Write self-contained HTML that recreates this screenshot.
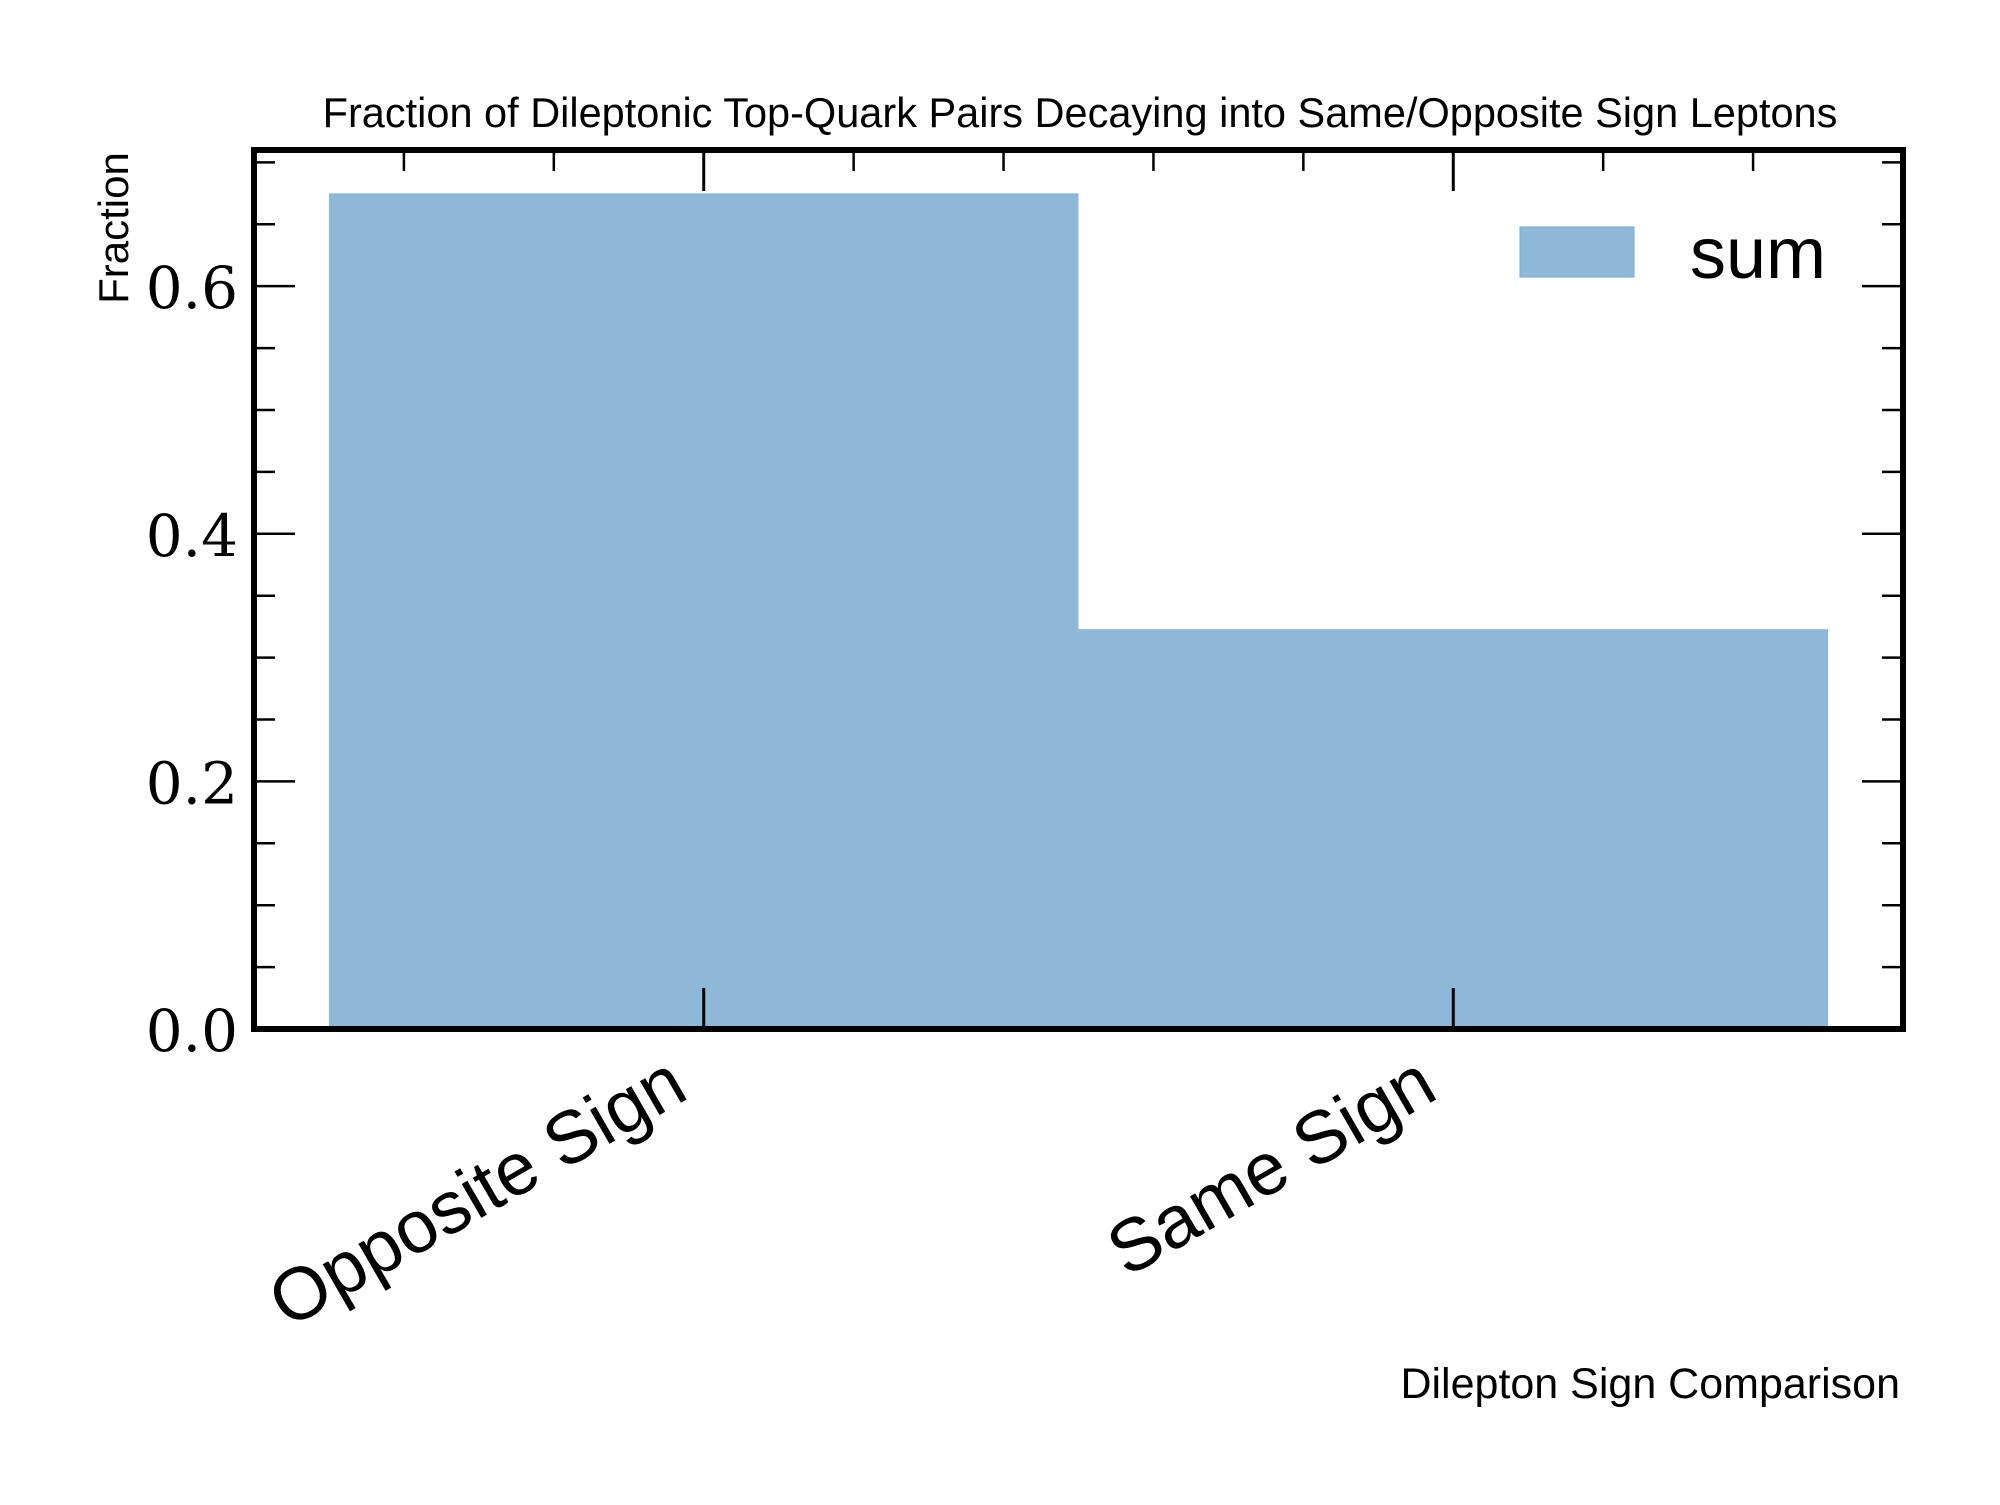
<!DOCTYPE html>
<html><head><meta charset="utf-8"><style>
body{margin:0;background:#fff}
svg text{font-family:"Liberation Sans",sans-serif}
.ser{font-family:"DejaVu Serif","Liberation Serif",serif}
</style></head><body>
<svg id="chart" width="2000" height="1500" xmlns="http://www.w3.org/2000/svg">
<rect width="2000" height="1500" fill="#fff"/>
<text x="1080" y="127" font-size="41.5" text-anchor="middle">Fraction of Dileptonic Top-Quark Pairs Decaying into Same/Opposite Sign Leptons</text>
<text transform="translate(128,228) rotate(-90)" font-size="42" text-anchor="middle">Fraction</text>
<text x="1900" y="1398" font-size="43" text-anchor="end">Dilepton Sign Comparison</text>
<g id="bars"></g>
<g id="ticks"></g>
<rect x="1520" y="227" width="114" height="50" fill="#8db8d8" stroke="#7aaad0" stroke-width="1"/>
<text x="1690" y="278" font-size="72">sum</text>
<rect x="254" y="150" width="1649" height="879" fill="none" stroke="#000" stroke-width="6"/>
</svg>
<script>
const categories = ["Opposite Sign", "Same Sign"];
const values = [0.675, 0.323];
const yTicks = [0, 0.2, 0.4, 0.6];
const yTickLabels = ["0.0", "0.2", "0.4", "0.6"];
const L=254,R=1903,T=150,B=1029, xmin=-0.1,xmax=2.1, ymin=0,ymax=0.71;
const sx=v=>L+(v-xmin)/(xmax-xmin)*(R-L);
const sy=v=>B-(v-ymin)/(ymax-ymin)*(B-T);
const NS="http://www.w3.org/2000/svg";
function mk(tag,attrs,parent){const e=document.createElementNS(NS,tag);for(const k in attrs)e.setAttribute(k,attrs[k]);parent.appendChild(e);return e;}
const bars=document.getElementById('bars'), ticks=document.getElementById('ticks'), svg=document.getElementById('chart');
values.forEach((v,i)=>{
  const r=mk('rect',{x:sx(i),y:sy(v),width:sx(i+1)-sx(i),height:B-sy(v),fill:'#8db8d8'},bars);
  
  
});
categories.forEach((c,i)=>{
  const x=sx(i+0.5);
  mk('line',{x1:x,x2:x,y1:B,y2:B-41,stroke:'#000','stroke-width':3},ticks);
  mk('line',{x1:x,x2:x,y1:T,y2:T+41,stroke:'#000','stroke-width':3},ticks);
  const t=mk('text',{transform:`translate(${x-13},1097) rotate(-30)`,'font-size':74,'text-anchor':'end'},svg);
  t.textContent=c;
  
  
});
for(let k=0;k<11;k++){
  const v=0.1+0.2*k; if(Math.abs(v-0.5)<1e-6||Math.abs(v-1.5)<1e-6) continue;
  const x=sx(v);
  mk('line',{x1:x,x2:x,y1:T,y2:T+21,stroke:'#000','stroke-width':2.5},ticks);
}
for(let k=0;k*0.05<=ymax+1e-9;k++){
  const v=k*0.05, y=sy(v), major=(k%4===0), len=major?41:21;
  mk('line',{x1:L,x2:L+len,y1:y,y2:y,stroke:'#000','stroke-width':2.5},ticks);
  mk('line',{x1:R,x2:R-len,y1:y,y2:y,stroke:'#000','stroke-width':2.5},ticks);
}
yTicks.forEach((v,i)=>{
  const t=mk('text',{x:238,y:sy(v)+22,'font-size':58,'text-anchor':'end',class:'ser'},svg);
  t.textContent=yTickLabels[i];
  
  
});
</script>
</body></html>
